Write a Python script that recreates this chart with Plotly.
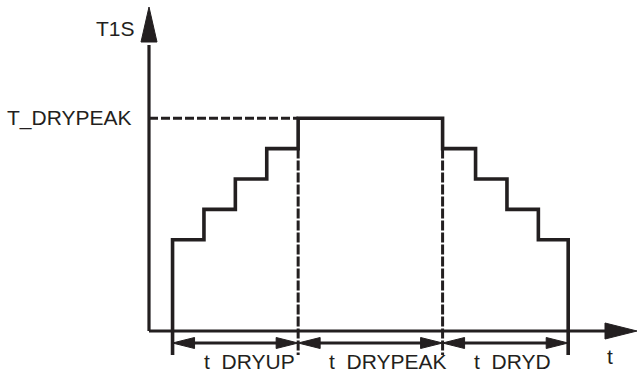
import plotly.graph_objects as go

# ---- data (time in step units, temperature in level units) ----
up_times = [0.75, 1.75, 2.75, 3.75, 4.75]
up_levels = [3, 4, 5, 6]
peak_times = [4.75, 9.35]
peak_level = 7
down_times = [9.35, 10.4, 11.4, 12.4, 13.35]
down_levels = [6, 5, 4, 3]
phase_bounds = [0.75, 4.75, 9.35, 13.35]
phase_labels = ["t_DRYUP", "t_DRYPEAK", "t_DRYD"]
y_axis_label = "T1S"
x_axis_label = "t"
peak_label = "T_DRYPEAK"

# ---- layout geometry ----
W, H = 637, 372
X_ORIGIN_PX, PX_PER_X = 149, 31.4
Y_ORIGIN_PX, PX_PER_Y = 331, 30.4
xr = [-X_ORIGIN_PX / PX_PER_X, (W - X_ORIGIN_PX) / PX_PER_X]
yr = [-(H - Y_ORIGIN_PX) / PX_PER_Y, Y_ORIGIN_PX / PX_PER_Y]

INK = "#231f20"
FONT = dict(family="Liberation Sans, Arial, sans-serif", size=21, color=INK)

ext_bottom = -24 / PX_PER_Y        # extension lines below axis
dim_y = -12 / PX_PER_Y             # dimension arrows
x_tip, x_base = xr[1], (605 - X_ORIGIN_PX) / PX_PER_X
y_tip, y_base = (Y_ORIGIN_PX - 7) / PX_PER_Y, (Y_ORIGIN_PX - 42) / PX_PER_Y

fig = go.Figure()

def line(xs, ys, width=3, dash=None):
    fig.add_trace(go.Scatter(x=xs, y=ys, mode="lines",
                             line=dict(color=INK, width=width, dash=dash),
                             hoverinfo="skip", showlegend=False))

def tri(xs, ys):
    fig.add_trace(go.Scatter(x=xs + [xs[0]], y=ys + [ys[0]], mode="lines",
                             fill="toself", fillcolor=INK,
                             line=dict(color=INK, width=1),
                             hoverinfo="skip", showlegend=False))

# axes
line([0, x_base + 0.1], [0, 0], width=3.2)
line([0, 0], [0, y_base - 0.1], width=3.2)
hw = 8 / PX_PER_X
tri([-hw, hw, 0], [y_base, y_base, y_tip])
hh = 8 / PX_PER_Y
tri([x_base, x_base, x_tip], [-hh, hh, 0])

# dashed helper lines
line([0, peak_times[0]], [peak_level, peak_level], width=3, dash="9px,3px")
line([peak_times[0], peak_times[0]], [up_levels[-1], ext_bottom], width=3, dash="10px,2px")
line([peak_times[1], peak_times[1]], [down_levels[0], ext_bottom], width=3, dash="10px,2px")

# staircase profile
sx, sy = [up_times[0]], [ext_bottom]
for i, lv in enumerate(up_levels):
    sx += [up_times[i], up_times[i + 1]]
    sy += [lv, lv]
sx += [peak_times[0], peak_times[1]]
sy += [peak_level, peak_level]
for i, lv in enumerate(down_levels):
    sx += [down_times[i], down_times[i + 1]]
    sy += [lv, lv]
sx += [down_times[-1]]
sy += [ext_bottom]
line(sx, sy, width=3.6)

# dimension arrows
al = 22 / PX_PER_X
ah = 5.5 / PX_PER_Y
for a, b in zip(phase_bounds[:-1], phase_bounds[1:]):
    line([a + al * 0.8, b - al * 0.8], [dim_y, dim_y], width=3)
    tri([a, a + al, a + al], [dim_y, dim_y + ah, dim_y - ah])
    tri([b, b - al, b - al], [dim_y, dim_y + ah, dim_y - ah])

# texts
ann = []
ann.append(dict(x=-12 / PX_PER_X, y=(Y_ORIGIN_PX - 28) / PX_PER_Y, text=y_axis_label,
                xanchor="right", yanchor="middle"))
ann.append(dict(x=-15 / PX_PER_X, y=peak_level, text=peak_label,
                xanchor="right", yanchor="middle"))
for a, lab in zip(phase_bounds[:-1], phase_labels):
    ann.append(dict(x=a + 29 / PX_PER_X, y=-31 / PX_PER_Y, text=lab,
                    xanchor="left", yanchor="middle"))
ann.append(dict(x=(610 - X_ORIGIN_PX) / PX_PER_X, y=-25 / PX_PER_Y, text=x_axis_label,
                xanchor="center", yanchor="middle"))
for a in ann:
    a.update(showarrow=False, font=FONT, xref="x", yref="y")

fig.update_layout(
    width=W, height=H, margin=dict(l=0, r=0, t=0, b=0),
    paper_bgcolor="white", plot_bgcolor="white",
    xaxis=dict(range=xr, visible=False, fixedrange=True),
    yaxis=dict(range=yr, visible=False, fixedrange=True),
    annotations=ann,
)
fig.write_html("out.html", config={"displayModeBar": False},
               post_script="document.body.style.margin='0';document.body.style.overflow='hidden';")
